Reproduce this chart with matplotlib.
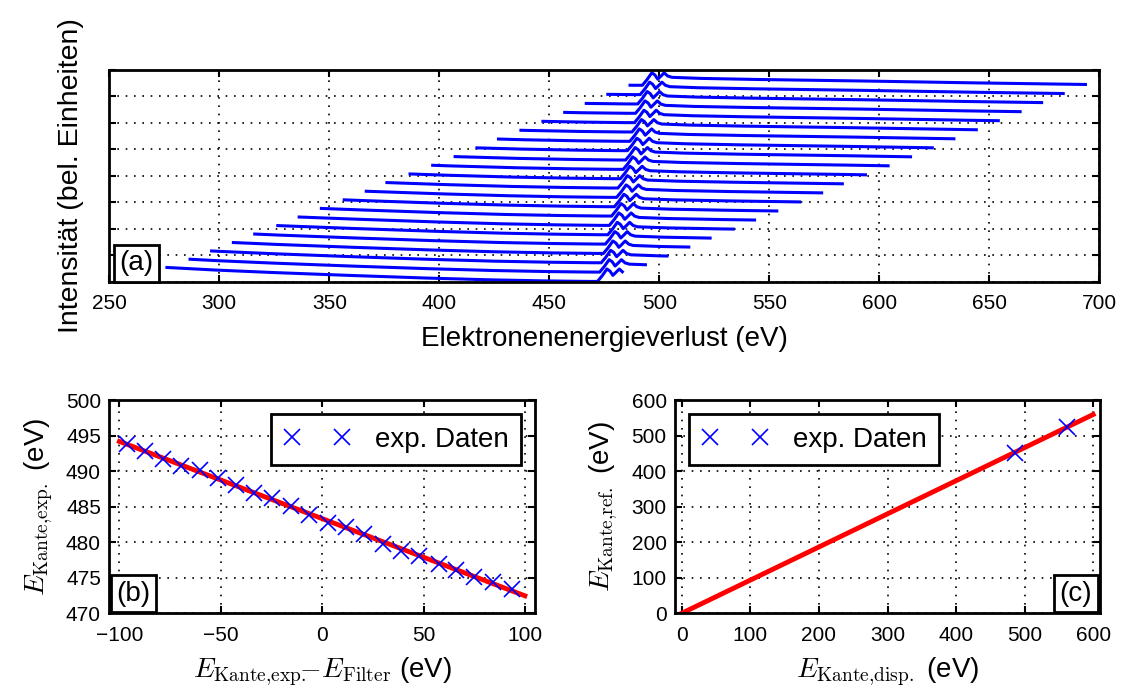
import numpy as np
import matplotlib
matplotlib.use('Agg')
import matplotlib.pyplot as plt

plt.rcParams['font.family'] = ['Liberation Sans', 'DejaVu Sans']
plt.rcParams['mathtext.fontset'] = 'cm'
plt.rcParams['axes.unicode_minus'] = True

# panel (b): edge position vs. (edge - filter) energy
d_edge_filter = [-96.4, -87.3, -78.6, -69.8, -60.4, -51.5, -42.3, -33.6, -24.5, -15.4, -6.4,
                 3.0, 11.8, 20.8, 29.9, 39.0, 48.0, 57.4, 66.2, 75.1, 84.2, 93.7]
e_edge_exp = [493.8, 492.8, 491.7, 490.7, 490.2, 489.1, 488.1, 487.0, 486.2, 485.1, 483.8,
              482.7, 482.1, 481.1, 479.8, 478.8, 478.1, 477.0, 476.1, 475.1, 474.4, 473.4]

# panel (c): calibration points
e_edge_disp = [485.9, 562.1]
e_edge_ref = [452.0, 525.4]

# panel (a): spectral shape relative to edge onset (eV, arb. units)
prof_de = [-215, -200, -175, -150, -115, -80, -50, -25, -5, -1.5, 0.6, 2.8, 4.2, 5.5,
           7.0, 8.4, 10.0, 12, 25, 50, 100, 150, 200, 215]
prof_int = [0.62, 0.55, 0.44, 0.35, 0.24, 0.14, 0.07, 0.03, 0.01, 0.01, 0.22, 0.48, 0.40, 0.24,
            0.36, 0.48, 0.36, 0.31, 0.27, 0.23, 0.17, 0.10, 0.04, 0.03]
window_half = 103.5   # eV around filter energy
offset_step = 0.353   # vertical offset between spectra

W, H = 1121, 688
fig = plt.figure(figsize=(W / 100, H / 100), dpi=100)


def px_axes(x0, y0, x1, y1):
    return fig.add_axes([x0 / W, 1 - y1 / H, (x1 - x0) / W, (y1 - y0) / H])


def style(ax):
    for s in ax.spines.values():
        s.set_linewidth(2.0)
    ax.tick_params(direction='in', top=True, right=True, length=5, width=1.5,
                   labelsize=15)
    ax.tick_params(axis='x', pad=9)
    ax.tick_params(axis='y', pad=6)
    ax.grid(True, linestyle=(0, (1, 4)), color='black', linewidth=1.2)
    ax.set_axisbelow(True)


def tag(ax, s, x, y, ha):
    ax.text(x, y, s, transform=ax.transAxes, fontsize=20, ha=ha, va='bottom',
            bbox=dict(boxstyle='square,pad=0.2', fc='white', ec='black', lw=2))


def legend(ax, loc):
    leg = ax.legend(loc=loc, numpoints=2, fontsize=20, fancybox=False, framealpha=1,
                    edgecolor='black', borderpad=0.45, handlelength=2.4, handletextpad=0.9,
                    borderaxespad=0.5)
    leg.get_frame().set_linewidth(2)


# ---- (a) waterfall of spectra
ax_a = px_axes(109.3, 70, 1099.3, 281.7)
e_filter = np.array(e_edge_exp) - np.array(d_edge_filter)
order = np.argsort(e_filter)
for k, i in enumerate(order):
    e0 = e_edge_exp[i]
    lo, hi = e_filter[i] - window_half, e_filter[i] + window_half
    ex = e0 + np.array(prof_de)
    keep = (ex > lo) & (ex < hi)
    x = np.concatenate([[lo], ex[keep], [hi]])
    y = np.interp(x, ex, prof_int) + k * offset_step
    ax_a.plot(x, y, color='blue', lw=2.2)
ax_a.set_xlim(250, 700)
ax_a.set_ylim(0, 8)
ax_a.set_xticks(np.arange(250, 701, 50))
ax_a.set_yticks(np.arange(0, 9, 1))
style(ax_a)
ax_a.tick_params(axis='y', labelleft=False)
ax_a.set_xlabel('Elektronenenergieverlust (eV)', fontsize=20, labelpad=9)
ax_a.set_ylabel('Intensität (bel. Einheiten)', fontsize=20.5, labelpad=18)
tag(ax_a, '(a)', 0.01, 0.025, 'left')

# ---- (b)
ax_b = px_axes(109.3, 400.2, 535, 613.2)
fit_b = np.polyfit(d_edge_filter, e_edge_exp, 1)
xf = np.array([-100, 100])
ax_b.plot(xf, np.polyval(fit_b, xf), color='red', lw=3.5, zorder=2)
ax_b.plot(d_edge_filter, e_edge_exp, 'x', color='blue', ms=11, mew=1.2, label='exp. Daten', zorder=3)
ax_b.set_xlim(-105, 105)
ax_b.set_ylim(470, 500)
ax_b.set_xticks(np.arange(-100, 101, 50))
ax_b.set_yticks(np.arange(470, 501, 5))
style(ax_b)
ax_b.set_xlabel(r'$E_{\mathrm{Kante{,}exp.}}\!\!\!\!-\!E_{\mathrm{Filter}}$ (eV)', fontsize=20, labelpad=8)
ax_b.set_ylabel(r'$E_{\mathrm{Kante{,}exp.}}$ (eV)', fontsize=20, labelpad=8)
legend(ax_b, 'upper right')
tag(ax_b, '(b)', 0.016, 0.03, 'left')

# ---- (c)
ax_c = px_axes(675, 400.2, 1100, 613.2)
xd = np.array(e_edge_disp)
slope_c = np.sum(xd * np.array(e_edge_ref)) / np.sum(xd ** 2)
xl = np.array([0, 600])
ax_c.plot(xl, slope_c * xl, color='red', lw=3.5, zorder=2)
ax_c.plot(e_edge_disp, e_edge_ref, 'x', color='blue', ms=11, mew=1.2, label='exp. Daten', zorder=3)
ax_c.set_xlim(-10, 610)
ax_c.set_ylim(0, 600)
ax_c.set_xticks(np.arange(0, 601, 100))
ax_c.set_yticks(np.arange(0, 601, 100))
style(ax_c)
ax_c.set_xlabel(r'$E_{\mathrm{Kante{,}disp.}}$ (eV)', fontsize=20, labelpad=8)
ax_c.set_ylabel(r'$E_{\mathrm{Kante{,}ref.}}$ (eV)', fontsize=20, labelpad=8)
legend(ax_c, 'upper left')
tag(ax_c, '(c)', 0.982, 0.03, 'right')

fig.savefig('out.png', dpi=100)
